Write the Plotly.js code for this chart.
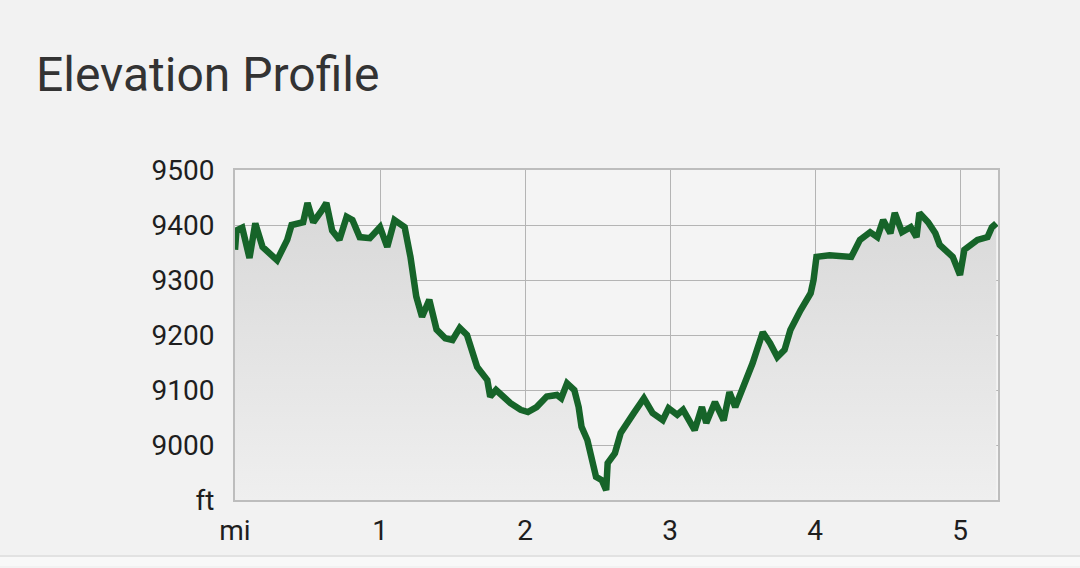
<!DOCTYPE html>
<html>
<head>
<meta charset="utf-8">
<script src="https://cdn.plot.ly/plotly-3.0.1.min.js"></script>
<style>
html,body{margin:0;padding:0;background:#f2f2f2;}
#chart{width:1080px;height:568px;}
</style>
</head>
<body>
<div id="chart"></div>
<script>
const distanceMi = [0.00,0.01,0.05,0.10,0.14,0.19,0.29,0.36,0.39,0.47,0.50,0.54,0.60,0.63,0.67,0.72,0.77,0.81,0.86,0.93,1.00,1.05,1.10,1.17,1.21,1.23,1.25,1.29,1.34,1.39,1.45,1.50,1.55,1.60,1.63,1.67,1.74,1.76,1.80,1.90,1.97,2.02,2.08,2.15,2.22,2.25,2.29,2.34,2.37,2.39,2.43,2.46,2.49,2.53,2.56,2.57,2.62,2.66,2.70,2.75,2.82,2.88,2.95,2.99,3.05,3.09,3.17,3.22,3.25,3.31,3.37,3.41,3.45,3.50,3.54,3.57,3.60,3.64,3.69,3.74,3.79,3.83,3.90,3.97,3.99,4.01,4.10,4.20,4.25,4.31,4.38,4.43,4.47,4.52,4.55,4.60,4.66,4.70,4.72,4.78,4.83,4.86,4.95,5.00,5.03,5.12,5.19,5.22,5.25];
const elevationFt = [9355,9390,9395,9340,9403,9360,9336,9373,9400,9405,9440,9405,9427,9440,9390,9373,9415,9409,9378,9376,9396,9360,9409,9396,9342,9300,9270,9233,9264,9210,9194,9191,9213,9200,9173,9142,9118,9088,9100,9076,9064,9060,9069,9088,9091,9085,9112,9100,9069,9033,9009,8973,8942,8936,8918,8967,8985,9022,9036,9058,9085,9058,9045,9067,9055,9064,9027,9069,9040,9078,9045,9096,9069,9100,9131,9149,9173,9205,9185,9160,9173,9209,9245,9276,9300,9342,9345,9342,9342,9373,9387,9378,9409,9385,9422,9387,9396,9378,9422,9405,9385,9364,9342,9309,9355,9373,9378,9396,9403];
const yTickVals = [8900,9000,9100,9200,9300,9400,9500];
const yTickText = ['ft','9000','9100','9200','9300','9400','9500'];
const xTickVals = [0,1,2,3,4,5];
const xTickText = ['mi','1','2','3','4','5'];

const trace = {
  x: distanceMi, y: elevationFt, type: 'scatter', mode: 'lines',
  line: {color: '#166429', width: 6.5},
  fill: 'tozeroy',
  fillgradient: {type: 'vertical', start: 8900, stop: 9450,
    colorscale: [[0, 'rgba(239,239,239,1)'], [1, 'rgba(216,216,216,1)']]},
  hoverinfo: 'skip'
};

const layout = {
  width: 1080, height: 568,
  paper_bgcolor: '#f2f2f2', plot_bgcolor: '#f4f4f4',
  margin: {l: 235, r: 82, t: 170, b: 68},
  showlegend: false,
  font: {family: 'Roboto, sans-serif', color: '#222'},
  title: {text: 'Elevation Profile', xref: 'container', yref: 'container',
    x: 36/1080, xanchor: 'left', y: 1 - 74/568, yanchor: 'middle',
    font: {family: 'Roboto, sans-serif', size: 48, color: '#333'}},
  xaxis: {range: [0, 5.262], tickvals: xTickVals, ticktext: xTickText,
    showgrid: true, gridcolor: '#b4b4b4', gridwidth: 1, zeroline: false,
    showline: true, linecolor: '#bdbdbd', linewidth: 2, mirror: true,
    ticks: '', ticklabelstandoff: 4, tickfont: {size: 28, color: '#1e1e1e'}},
  yaxis: {range: [8900, 9500], tickvals: yTickVals, ticktext: yTickText,
    showgrid: true, gridcolor: '#b4b4b4', gridwidth: 1, zeroline: false,
    showline: true, linecolor: '#bdbdbd', linewidth: 2, mirror: true,
    ticks: '', ticklabelstandoff: 13, tickfont: {size: 28, color: '#1e1e1e'}},
  shapes: [
    {type: 'rect', xref: 'paper', yref: 'paper', x0: -0.4, x1: 1.2,
     y0: -0.2, y1: -0.17, fillcolor: '#f8f8f8', line: {width: 0}, layer: 'below'},
    {type: 'line', xref: 'paper', yref: 'paper', x0: -0.4, x1: 1.2,
     y0: -0.17, y1: -0.17, line: {color: '#e2e2e2', width: 2}}
  ]
};

Plotly.newPlot('chart', [trace], layout, {displayModeBar: false, staticPlot: true});
</script>
</body>
</html>
